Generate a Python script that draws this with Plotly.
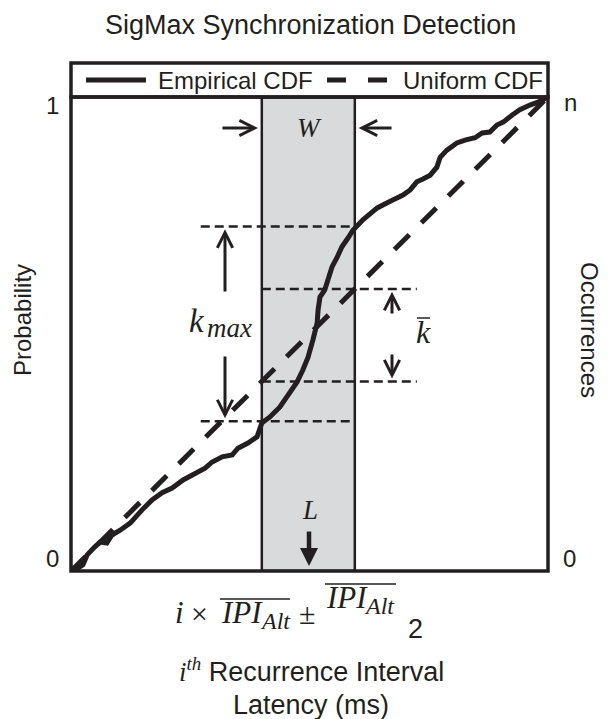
import plotly.graph_objects as go

# ---------------- data (normalised latency 0..1, probability 0..1) ----------------
emp_x = [0.000, 0.008, 0.025, 0.034, 0.050, 0.061, 0.075, 0.086, 0.103, 0.124, 0.149,
         0.170, 0.191, 0.212, 0.235, 0.254, 0.281, 0.296, 0.317, 0.338, 0.350, 0.371,
         0.390, 0.400, 0.417, 0.438, 0.459, 0.474, 0.486, 0.497, 0.507, 0.516, 0.518,
         0.522, 0.532, 0.539, 0.547, 0.558, 0.568, 0.581, 0.591, 0.612, 0.642, 0.665,
         0.686, 0.696, 0.711, 0.725, 0.738, 0.753, 0.767, 0.774, 0.788, 0.809, 0.826,
         0.847, 0.862, 0.878, 0.893, 0.906, 0.925, 0.941, 0.962, 0.979, 1.000]
emp_y = [0.000, 0.002, 0.013, 0.034, 0.051, 0.061, 0.059, 0.076, 0.086, 0.101, 0.129,
         0.150, 0.165, 0.175, 0.192, 0.203, 0.217, 0.230, 0.241, 0.245, 0.259, 0.270,
         0.283, 0.312, 0.325, 0.346, 0.378, 0.399, 0.424, 0.451, 0.487, 0.523, 0.551,
         0.578, 0.593, 0.620, 0.641, 0.662, 0.684, 0.703, 0.719, 0.741, 0.766, 0.778,
         0.787, 0.793, 0.804, 0.821, 0.827, 0.835, 0.852, 0.873, 0.888, 0.903, 0.909,
         0.914, 0.924, 0.926, 0.941, 0.947, 0.962, 0.973, 0.983, 0.989, 1.000]
uni_x = [0.0, 1.0]
uni_y = [0.0, 1.0]

window = [0.400, 0.595]              # W : window around i x IPI
kmax_levels = [0.316, 0.727]         # empirical CDF at window edges
kbar_levels = [0.400, 0.595]         # uniform CDF at window edges
kmax_line_x = [0.272, 0.595]
kbar_line_x = [0.400, 0.725]

left_ticks = ["0", "1"]
right_ticks = ["0", "n"]
series_names = ["Empirical CDF", "Uniform CDF"]

INK = "#231f20"
SANS = "Liberation Sans, Arial, Helvetica, sans-serif"
SERIF = "Liberation Serif, Times New Roman, serif"

# page geometry (the page body adds an 8px offset)
OFF = 8
FIG_W, FIG_H = 612 - OFF, 719 - OFF
L, R, T, B = 71, 548, 97, 571      # plot area in page pixels
W_PX, H_PX = R - L, B - T


def PX(px):
    return (px - L) / W_PX


def PY(py):
    return (B - py) / H_PX


fig = go.Figure()
fig.add_trace(go.Scatter(x=emp_x, y=emp_y, mode="lines", name=series_names[0],
                         line=dict(color=INK, width=5), showlegend=False))
fig.add_trace(go.Scatter(x=uni_x, y=uni_y, mode="lines", name=series_names[1],
                         line=dict(color=INK, width=5, dash="21px,17px"), showlegend=False))

shapes = []
shapes.append(dict(type="rect", xref="x", yref="y", x0=window[0], x1=window[1], y0=0, y1=1,
                   fillcolor="#d9dadc", line=dict(color=INK, width=2.5), layer="below"))
for lv in kmax_levels:
    shapes.append(dict(type="line", xref="x", yref="y", x0=kmax_line_x[0], x1=kmax_line_x[1],
                       y0=lv, y1=lv, line=dict(color=INK, width=2.5, dash="9px,5px")))
for lv in kbar_levels:
    shapes.append(dict(type="line", xref="x", yref="y", x0=kbar_line_x[0], x1=kbar_line_x[1],
                       y0=lv, y1=lv, line=dict(color=INK, width=2.5, dash="9px,5px")))
shapes.append(dict(type="rect", xref="paper", yref="paper", x0=0, x1=1, y0=0, y1=1,
                   line=dict(color=INK, width=3.5), layer="above"))
shapes.append(dict(type="rect", xref="paper", yref="paper", x0=0, x1=1, y0=1, y1=PY(63),
                   line=dict(color=INK, width=3.5), layer="above"))
shapes.append(dict(type="line", xref="paper", yref="paper", x0=PX(86), x1=PX(146),
                   y0=PY(80), y1=PY(80), line=dict(color=INK, width=5)))
shapes.append(dict(type="line", xref="paper", yref="paper", x0=PX(327), x1=PX(390),
                   y0=PY(80), y1=PY(80), line=dict(color=INK, width=5, dash="19px,22px")))
# overlines for IPI_Alt
shapes.append(dict(type="line", xref="paper", yref="paper", x0=PX(220), x1=PX(290),
                   y0=PY(599), y1=PY(599), line=dict(color=INK, width=1.5)))
shapes.append(dict(type="line", xref="paper", yref="paper", x0=PX(325), x1=PX(396),
                   y0=PY(584), y1=PY(584), line=dict(color=INK, width=1.5)))
# bar over k
shapes.append(dict(type="line", xref="paper", yref="paper", x0=PX(417), x1=PX(430),
                   y0=PY(318), y1=PY(318), line=dict(color=INK, width=1.5)))

ann = []


def text(x, y, s, size=24, family=SANS, angle=0, xanchor="center", yanchor="middle"):
    ann.append(dict(x=x, y=y, xref="paper", yref="paper", text=s, showarrow=False,
                    textangle=angle, xanchor=xanchor, yanchor=yanchor,
                    font=dict(size=size, family=family, color=INK)))


def arrow(x, y, ax, ay, width=3, head=5, size=1.0):
    ann.append(dict(x=x, y=y, ax=ax, ay=ay, xref="x", yref="y", axref="x", ayref="y",
                    text="", showarrow=True, arrowhead=head, arrowsize=size,
                    arrowwidth=width, arrowcolor=INK))


# title (anchored to the top edge of the figure)
text(PX(310), PY(OFF), "SigMax Synchronization Detection", size=27, yanchor="top")
# legend texts
text(PX(156), PY(80), series_names[0], xanchor="left")
text(PX(401), PY(80), series_names[1], xanchor="left")
# axis end labels
text(PX(52), PY(105), left_ticks[1])
text(PX(52), PY(558), left_ticks[0])
text(PX(570), PY(103), right_ticks[1])
text(PX(569), PY(558), right_ticks[0])
# axis titles
text(PX(22), PY(320), "Probability", angle=-90)
text(PX(590), PY(330), "Occurrences", angle=90)
# x label math: i x IPI_Alt +- IPI_Alt / 2
text(PX(179), PY(612), "<i>i</i>", size=31, family=SERIF)
text(PX(199), PY(613), "×", size=30, family=SERIF)
text(PX(219), PY(612), "<i>IPI</i>", size=31, family=SERIF, xanchor="left")
text(PX(258), PY(621), "<i>Alt</i>", size=24, family=SERIF, xanchor="left")
text(PX(307), PY(613), "±", size=30, family=SERIF)
text(PX(324), PY(597), "<i>IPI</i>", size=31, family=SERIF, xanchor="left")
text(PX(362), PY(606), "<i>Alt</i>", size=24, family=SERIF, xanchor="left")
text(PX(415), PY(629), "2", size=27)
text(PX(311), PY(670),
     "<span style='font-family:Liberation Serif'><i>i</i><sup><i>th</i></sup></span>"
     " Recurrence Interval", size=27)
text(PX(311), PY(705), "Latency (ms)", size=27)
# symbols
text(PX(309), PY(128), "<i>W</i>", size=27, family=SERIF)
text(PX(197), PY(321), "<i>k</i>", size=33, family=SERIF)
text(PX(205), PY(328), "<i>max</i>", size=27, family=SERIF, xanchor="left")
text(PX(423), PY(332), "<i>k</i>", size=32, family=SERIF)
text(PX(310), PY(510), "<i>L</i>", size=27, family=SERIF)

# arrows
arrow(window[0] - 0.008, PY(128), PX(221), PY(128))
arrow(window[1] + 0.008, PY(128), PX(393), PY(128))
arrow(PX(225), kmax_levels[1] - 0.006, PX(225), PY(293))
arrow(PX(225), kmax_levels[0] + 0.006, PX(225), PY(355))
arrow(PX(392), kbar_levels[1] - 0.006, PX(392), PY(315))
arrow(PX(392), kbar_levels[0] + 0.006, PX(392), PY(353))
arrow(PX(309), PY(566), PX(309), PY(530), width=4.5, head=2, size=0.8)

fig.update_layout(
    width=FIG_W, height=FIG_H,
    margin=dict(l=L - OFF, r=612 - R, t=T - OFF, b=719 - B),
    paper_bgcolor="white", plot_bgcolor="white",
    xaxis=dict(range=[0, 1], visible=False, fixedrange=True),
    yaxis=dict(range=[0, 1], visible=False, fixedrange=True),
    shapes=shapes, annotations=ann, showlegend=False,
)

fig.write_html("out.html")
